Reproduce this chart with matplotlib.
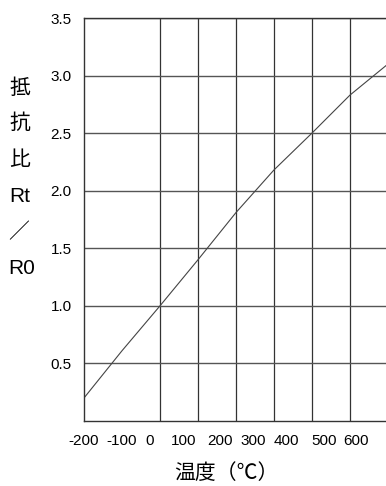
import matplotlib
matplotlib.use('Agg')
import matplotlib.pyplot as plt

plt.rcParams['font.family'] = ['Liberation Sans', 'Noto Sans CJK JP', 'DejaVu Sans']

# temperature (deg C) vs resistance ratio Rt/R0
temps = [-200, -100, 0, 100, 200, 300, 400, 500, 600]
ratio = [0.20, 0.61, 1.00, 1.40, 1.81, 2.18, 2.50, 2.83, 3.10]

grid_x = [-200, -100, 0, 100, 200, 300, 400, 500]
grid_y = [0.5, 1.0, 1.5, 2.0, 2.5, 3.0, 3.5]
y_labels = ['0.5', '1.0', '1.5', '2.0', '2.5', '3.0', '3.5']
x_labels = ['-200', '-100', '0', '100', '200', '300', '400', '500', '600']
# the source prints the x labels slightly off the grid lines
x_label_pos = [-200, -100, -26, 63, 158, 245, 334, 432, 516]

ylabel_parts = ['抵', '抗', '比', 'Rt', '／', 'R0']
ylabel_y = [88, 123, 160, 196, 232, 269]   # pixel rows from top
ylabel_x = [20, 20, 20, 20, 19, 22]
xlabel = '温度（℃）'

W, H = 386, 486
fig = plt.figure(figsize=(W / 100, H / 100), dpi=100)
ax = fig.add_axes([84 / W, 65 / H, (W - 84) / W, 403 / H])

ax.plot(temps, ratio, color='#444444', lw=0.8)

ax.set_xticks(grid_x, minor=True)
ax.set_xticks(x_label_pos, x_labels)
ax.set_yticks(grid_y, y_labels)
ax.set_xlim(-200, 595)
ax.set_ylim(0, 3.5)
ax.grid(True, which='minor', axis='x', color='#333333', lw=0.9)
ax.grid(True, which='major', axis='y', color='#555555', lw=1.0)
ax.tick_params(which='both', length=0)
ax.tick_params(axis='y', labelsize=11, pad=9)
ax.tick_params(axis='x', labelsize=11, pad=9)

for side in ['top', 'left', 'bottom']:
    ax.spines[side].set_color('#333333')
    ax.spines[side].set_linewidth(1.0)
ax.spines['right'].set_visible(False)

for txt, px, py in zip(ylabel_parts, ylabel_x, ylabel_y):
    fig.text(px / W, 1 - py / H, txt, ha='center', va='center', fontsize=15,
             family=['Liberation Sans', 'Noto Sans CJK JP'])

fig.text(226 / W, 1 - 473 / H, xlabel, ha='center', va='center', fontsize=15,
         family=['Noto Sans CJK JP'])

fig.savefig('out.png', dpi=100)
